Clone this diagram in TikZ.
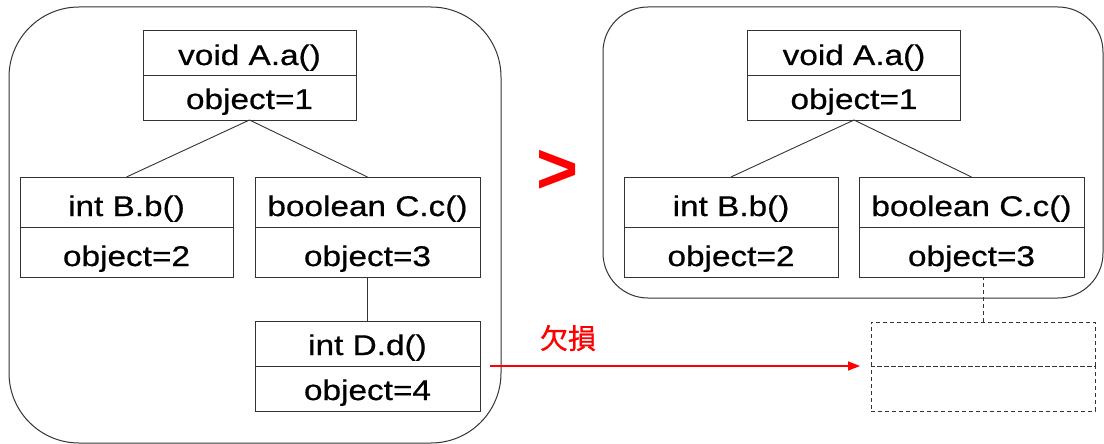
\documentclass[tikz,border=0pt]{standalone}
\usepackage{fontspec}
\setmainfont{Liberation Sans}[FakeStretch=1.17,FakeBold=0.6]
\newfontfamily\plainsans{Liberation Sans}
\newfontfamily\cjk{Noto Sans CJK JP}[FakeBold=0.8]
\usetikzlibrary{arrows.meta}
\definecolor{linegray}{HTML}{333333}
\tikzset{
  cell/.style n args={3}{draw=linegray, line width=1pt, inner sep=0pt, outer sep=0pt,
    font=\fontsize{28.5}{28.5}\selectfont, text=black,
    minimum width=#1pt, minimum height=#2pt, text height=#3pt, text depth=0pt},
  dcell/.style={draw=linegray, line width=1pt, inner sep=0pt, outer sep=0pt,
    dash pattern=on 4pt off 3pt},
  group/.style={draw=linegray, line width=1pt, inner sep=0pt, outer sep=0pt},
  conn/.style={draw=linegray, line width=0.9pt},
  dconn/.style={draw=linegray, line width=1pt, dash pattern=on 4pt off 3pt},
  redarrow/.style={draw=red, line width=1.6pt, -{Triangle[length=12pt,width=9pt]}},
}
\begin{document}
\begin{tikzpicture}[x=1pt,y=-1pt]
\fill[white] (0,0) rectangle (1104,444);
\useasboundingbox (0,0) rectangle (1104,444);
% groups
\node[group, rounded corners=70pt, minimum width=492pt, minimum height=436pt] (GL) at (255,225) {};
\node[group, rounded corners=45pt, minimum width=500pt, minimum height=291pt] (GR) at (853,152.5) {};
% left tree
\node[cell={213}{45}{23}] (LAt) at (249.5,53.5) {void A.a()};
\node[cell={213}{44}{22}] (LAo) at (249.5,98) {object=1};
\node[cell={213}{50}{28}] (LBt) at (126.5,202) {int B.b()};
\node[cell={213}{50}{28}] (LBo) at (126.5,252) {object=2};
\node[cell={225}{50}{28}] (LCt) at (367.5,202) {boolean C.c()};
\node[cell={225}{50}{28}] (LCo) at (367.5,252) {object=3};
\node[cell={225}{45}{23}] (LDt) at (367.5,343.5) {int D.d()};
\node[cell={225}{45}{23}] (LDo) at (367.5,388.5) {object=4};
\draw[conn] (LAo.south) -- (LBt.north);
\draw[conn] (LAo.south) -- (LCt.north);
\draw[conn] (LCo.south) -- (LDt.north);
% right tree
\node[cell={213}{45}{23}] (RAt) at (854,53.5) {void A.a()};
\node[cell={213}{44}{22}] (RAo) at (854,98) {object=1};
\node[cell={214}{50}{28}] (RBt) at (731,202) {int B.b()};
\node[cell={214}{50}{28}] (RBo) at (731,252) {object=2};
\node[cell={225}{50}{28}] (RCt) at (971.5,202) {boolean C.c()};
\node[cell={225}{50}{28}] (RCo) at (971.5,252) {object=3};
\draw[conn] (RAo.south) -- (RBt.north);
\draw[conn] (RAo.south) -- (RCt.north);
% missing (dashed) box
\node[dcell, minimum width=224pt, minimum height=44pt] (Xt) at (983,344) {};
\node[dcell, minimum width=224pt, minimum height=45pt] (Xo) at (983,388.5) {};
\draw[dconn] (Xt.north) -- (Xt.north |- RCo.south);
% arrow and labels
\draw[redarrow, shorten <=10pt, shorten >=11pt] (LDt.south east) -- (Xt.south west);
\node[text=red, font=\cjk\fontsize{28}{28}\selectfont] (lbl) at (568,338) {欠損};
\node[text=red, font=\plainsans\bfseries\fontsize{72}{72}\selectfont] (gt) at (558,172) {>};
\end{tikzpicture}
\end{document}
